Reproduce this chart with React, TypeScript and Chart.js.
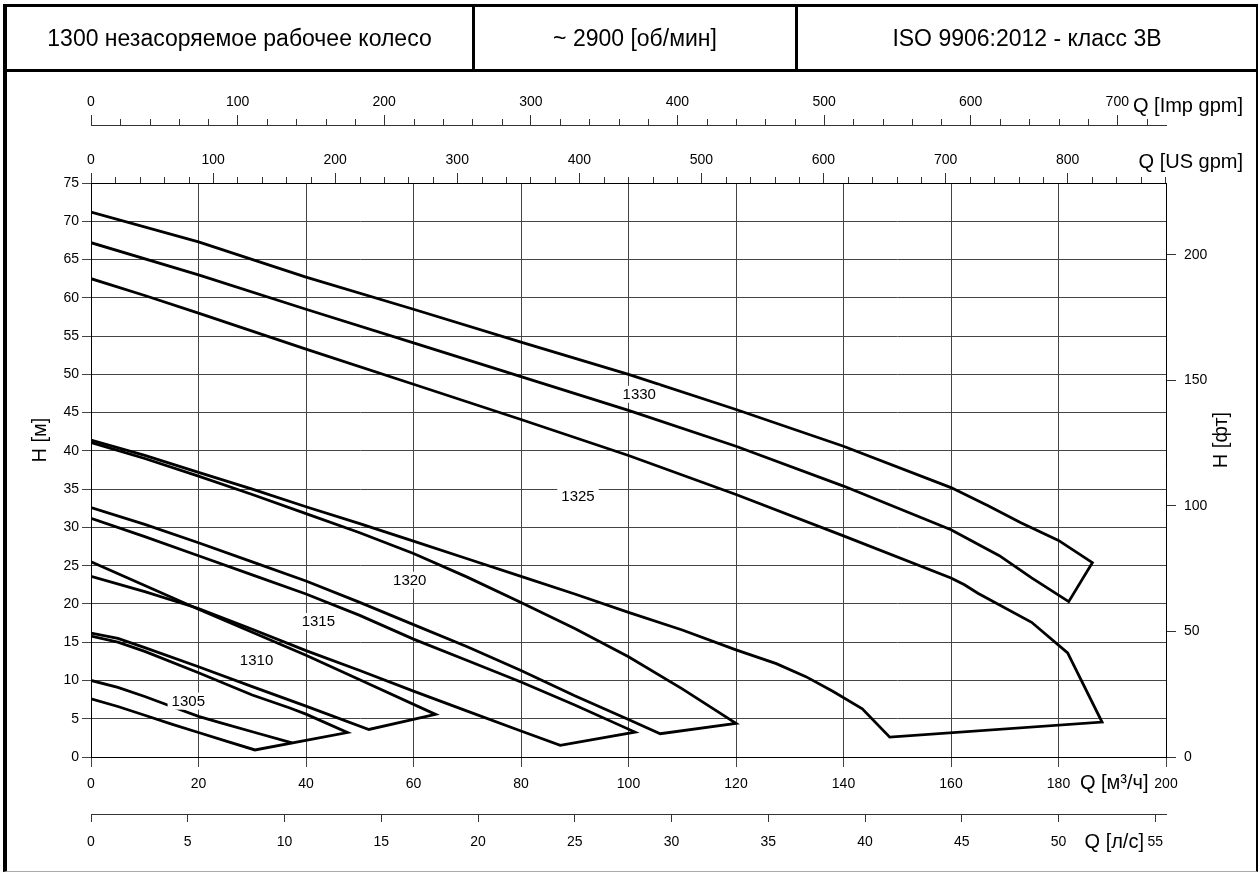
import React, { useEffect, useRef } from 'react';
import { Chart, registerables } from 'chart.js';

Chart.register(...registerables);

const FONT = '"Liberation Sans", Arial, Helvetica, sans-serif';

// ---------- header ----------
const headerTexts = ['1300 незасоряемое рабочее колесо', '~ 2900 [об/мин]', 'ISO 9906:2012 - класс 3B'];

// ---------- axis ranges ----------
const Q_M3H_MAX = 200;
const Q_LS_MAX = 200 / 3.6;
const Q_USGPM_MAX = 200 * 4.40287;
const Q_IMPGPM_MAX = 200 * 3.66615;
const H_M_MAX = 75;
const H_FT_MAX = 228.6;
const Q_M3H_STEP = 20;
const Q_LS_STEP = 5;
const GPM_MAJOR_STEP = 100;
const GPM_MINOR_STEP = 20;
const H_M_STEP = 5;
const H_FT_STEP = 50;

// ---------- axis titles ----------
const titleHm = 'H [м]';
const titleHft = 'H [фт]';
const titleQm3h = 'Q [м³/ч]';
const titleQls = 'Q [л/с]';
const titleQus = 'Q [US gpm]';
const titleQimp = 'Q [Imp gpm]';

// ---------- curves (Q in m³/h, H in m) ----------
const q1305min = [0, 5, 10, 15, 20, 25, 30.5];
const h1305min = [7.6, 6.6, 5.45, 4.3, 3.2, 2.1, 0.92];
const q1305mid = [0, 5, 10, 15, 20, 24, 31, 37.4];
const h1305mid = [10.0, 9.1, 7.9, 6.6, 5.3, 4.5, 3.1, 1.85];
const q1305max = [0, 5, 10, 20, 30, 37, 40, 47.7];
const h1305max = [15.8, 15.0, 13.8, 11.0, 8.1, 6.4, 5.6, 3.2];

const q1310min = [0, 5, 10, 20, 30, 40, 51.7];
const h1310min = [16.2, 15.5, 14.3, 11.8, 9.2, 6.65, 3.6];
const q1310max = [0, 10, 20, 30, 40, 50, 64.1];
const h1310max = [25.5, 22.4, 19.3, 16.3, 13.3, 10.1, 5.57];

const q1315min = [0, 10, 20, 30, 40, 50, 60, 70, 80, 87.3];
const h1315min = [23.6, 21.6, 19.4, 16.7, 13.9, 11.3, 8.6, 6.0, 3.4, 1.52];
const q1315max = [0, 10, 20, 30, 40, 50, 60, 70, 80, 90, 101.2];
const h1315max = [31.2, 28.8, 26.3, 23.8, 21.3, 18.5, 15.4, 12.6, 9.8, 6.8, 3.26];

const q1320min = [0, 10, 20, 30, 40, 50, 60, 70, 80, 90, 100, 105.9];
const h1320min = [32.6, 30.4, 28.0, 25.5, 23.0, 20.2, 17.3, 14.4, 11.3, 8.0, 4.9, 3.04];
const q1320max = [0, 10, 20, 30, 40, 50, 60, 70, 80, 90, 100, 110, 120];
const h1320max = [41.1, 39.0, 36.7, 34.3, 31.8, 29.3, 26.6, 23.5, 20.2, 16.8, 13.1, 8.9, 4.39];

const q1325min = [0, 10, 20, 30, 40, 50, 60, 70, 80, 90, 100, 110, 120, 127.5, 133, 138, 143.5, 148.6];
const h1325min = [41.4, 39.4, 37.2, 35.0, 32.7, 30.5, 28.2, 25.9, 23.6, 21.3, 18.9, 16.6, 14.0, 12.2, 10.5, 8.6, 6.3, 2.6];
const q1325max = [0, 10, 20, 40, 60, 80, 100, 120, 140, 160, 162.5, 165, 175, 181.7, 188.1];
const h1325max = [62.5, 60.3, 58.0, 53.3, 48.7, 44.1, 39.4, 34.3, 28.9, 23.4, 22.5, 21.4, 17.6, 13.6, 4.56];

const q1330min = [0, 20, 40, 60, 80, 100, 120, 140, 160, 169, 175, 181.9];
const h1330min = [67.2, 63.0, 58.5, 54.1, 49.7, 45.3, 40.6, 35.4, 29.7, 26.3, 23.4, 20.3];
const q1330max = [0, 20, 40, 60, 80, 100, 120, 140, 160, 167, 173, 180, 186.3];
const h1330max = [71.2, 67.3, 62.7, 58.5, 54.2, 50.0, 45.4, 40.6, 35.2, 32.8, 30.6, 28.3, 25.4];

// ---------- model labels (data coordinates) ----------
const modelNames = ['1305', '1310', '1315', '1320', '1325', '1330'];
const labelQ = [18.1, 30.8, 42.3, 59.3, 90.6, 102];
const labelH = [7.3, 12.6, 17.7, 23.1, 34.1, 47.4];

const toPts = (qs: number[], hs: number[]) => qs.map((q, i) => ({ x: q, y: hs[i] }));
const envelope = (qMax: number[], hMax: number[], qMin: number[], hMin: number[]) => [
  ...toPts(qMax, hMax),
  ...toPts(qMin, hMin).reverse(),
];

const GRID = '#444';

const overlayPlugin = {
  id: 'overlay',
  afterDatasetsDraw(chart: any) {
    const { ctx } = chart;
    const xs = chart.scales.x;
    const ys = chart.scales.y;
    ctx.save();
    ctx.font = `15px ${FONT}`;
    ctx.textAlign = 'center';
    ctx.textBaseline = 'middle';
    modelNames.forEach((name, i) => {
      const px = xs.getPixelForValue(labelQ[i]);
      const py = ys.getPixelForValue(labelH[i]);
      const w = ctx.measureText(name).width + 8;
      ctx.fillStyle = '#fff';
      ctx.fillRect(px - w / 2, py - 8.5, w, 17);
      ctx.fillStyle = '#000';
      ctx.fillText(name, px, py + 0.5);
    });
    ctx.restore();
  },
  afterDraw(chart: any) {
    const { ctx, chartArea } = chart;
    ctx.save();
    // minor ticks on gpm axes
    ctx.strokeStyle = '#333';
    ctx.lineWidth = 1;
    ['xImp', 'xUS'].forEach((id) => {
      const s = chart.scales[id];
      for (let v = GPM_MINOR_STEP; v <= s.max + 1e-6; v += GPM_MINOR_STEP) {
        if (v % GPM_MAJOR_STEP === 0) continue;
        const px = Math.round(s.getPixelForValue(v)) + 0.5;
        ctx.beginPath();
        ctx.moveTo(px, s.bottom);
        ctx.lineTo(px, s.bottom - 6);
        ctx.stroke();
      }
    });
    // axis titles
    ctx.fillStyle = '#000';
    ctx.font = `20px ${FONT}`;
    ctx.textBaseline = 'alphabetic';
    ctx.textAlign = 'right';
    const rightEdge = chartArea.right + 77;
    ctx.fillText(titleQimp, rightEdge, chart.scales.xImp.bottom - 13.5);
    ctx.fillText(titleQus, rightEdge, chart.scales.xUS.bottom - 15.5);
    ctx.textAlign = 'center';
    const xs = chart.scales.x;
    const midQ = (xs.getPixelForValue(180) + xs.getPixelForValue(200)) / 2 + 2;
    ctx.fillText(titleQm3h, midQ, xs.top + 31.5);
    ctx.fillText(titleQls, midQ, chart.scales.x2.top + 33.5);
    ctx.textBaseline = 'middle';
    const ty = 440;
    ctx.save();
    ctx.translate(40, ty);
    ctx.rotate(-Math.PI / 2);
    ctx.fillText(titleHm, 0, 0);
    ctx.restore();
    ctx.save();
    ctx.translate(1221, ty);
    ctx.rotate(-Math.PI / 2);
    ctx.fillText(titleHft, 0, 0);
    ctx.restore();
    ctx.restore();
  },
};

export default function App() {
  const canvasRef = useRef<HTMLCanvasElement | null>(null);

  useEffect(() => {
    if (!canvasRef.current) return;
    Chart.defaults.font.family = FONT;
    Chart.defaults.font.size = 14;
    Chart.defaults.color = '#000';

    const lineStyle = {
      showLine: true,
      borderColor: '#000',
      borderWidth: 2.8,
      pointRadius: 0,
      pointHoverRadius: 0,
      tension: 0,
      fill: false,
    };

    const datasets = [
      { label: '1305', data: envelope(q1305max, h1305max, q1305min, h1305min), ...lineStyle },
      { label: '1305 mid', data: toPts(q1305mid, h1305mid), ...lineStyle },
      { label: '1310', data: envelope(q1310max, h1310max, q1310min, h1310min), ...lineStyle },
      { label: '1315', data: envelope(q1315max, h1315max, q1315min, h1315min), ...lineStyle },
      { label: '1320', data: envelope(q1320max, h1320max, q1320min, h1320min), ...lineStyle },
      { label: '1325', data: envelope(q1325max, h1325max, q1325min, h1325min), ...lineStyle },
      { label: '1330', data: envelope(q1330max, h1330max, q1330min, h1330min), ...lineStyle },
    ];

    const tickFont = { size: 14, family: FONT };

    const chart = new Chart(canvasRef.current, {
      type: 'scatter',
      data: { datasets },
      plugins: [overlayPlugin],
      options: {
        responsive: false,
        animation: false,
        devicePixelRatio: 1,
        layout: { padding: { left: 0, right: 32, top: 67, bottom: 14 } },
        plugins: { legend: { display: false }, tooltip: { enabled: false } },
        events: [],
        scales: {
          x: {
            type: 'linear',
            position: 'bottom',
            weight: 0,
            min: 0,
            max: Q_M3H_MAX,
            ticks: { stepSize: Q_M3H_STEP, padding: 9, autoSkip: false, maxRotation: 0, font: tickFont, color: '#000' },
            grid: { color: GRID, lineWidth: 1, tickLength: 10, tickColor: GRID },
            border: { display: true, color: '#000', width: 1 },
            afterFit: (s: any) => { s.height = 57; },
          },
          x2: {
            type: 'linear',
            axis: 'x',
            position: 'bottom',
            weight: 1,
            min: 0,
            max: Q_LS_MAX,
            ticks: { stepSize: Q_LS_STEP, padding: 12, includeBounds: false, autoSkip: false, maxRotation: 0, font: tickFont, color: '#000' },
            grid: { drawOnChartArea: false, tickLength: 8, color: '#333' },
            border: { display: true, color: '#333', width: 1 },
            afterFit: (s: any) => { s.height = 45; },
          },
          xUS: {
            type: 'linear',
            axis: 'x',
            position: 'top',
            weight: 0,
            min: 0,
            max: Q_USGPM_MAX,
            ticks: { stepSize: GPM_MAJOR_STEP, padding: 4, includeBounds: false, autoSkip: false, maxRotation: 0, font: tickFont, color: '#000' },
            grid: { drawOnChartArea: false, tickLength: 10, color: '#333' },
            border: { display: true, color: '#000', width: 1 },
            afterFit: (s: any) => { s.height = 58; },
          },
          xImp: {
            type: 'linear',
            axis: 'x',
            position: 'top',
            weight: 1,
            min: 0,
            max: Q_IMPGPM_MAX,
            ticks: { stepSize: GPM_MAJOR_STEP, padding: 4, includeBounds: false, autoSkip: false, maxRotation: 0, font: tickFont, color: '#000' },
            grid: { drawOnChartArea: false, tickLength: 10, color: '#333' },
            border: { display: true, color: '#333', width: 1 },
            afterFit: (s: any) => { s.height = 58; },
          },
          y: {
            type: 'linear',
            position: 'left',
            min: 0,
            max: H_M_MAX,
            ticks: { stepSize: H_M_STEP, padding: 3, autoSkip: false, font: tickFont, color: '#000' },
            grid: { color: GRID, lineWidth: 1, tickLength: 9, tickColor: GRID },
            border: { display: true, color: '#000', width: 1 },
            afterFit: (s: any) => { s.width = 91; },
          },
          y2: {
            type: 'linear',
            axis: 'y',
            position: 'right',
            min: 0,
            max: H_FT_MAX,
            ticks: { stepSize: H_FT_STEP, padding: 8, includeBounds: false, autoSkip: false, font: tickFont, color: '#000' },
            grid: { drawOnChartArea: false, tickLength: 10, color: '#333' },
            border: { display: true, color: '#000', width: 1 },
            afterFit: (s: any) => { s.width = 60; },
          },
        },
      } as any,
    });
    return () => chart.destroy();
  }, []);

  const cellStyle: React.CSSProperties = {
    display: 'flex',
    alignItems: 'center',
    justifyContent: 'center',
    fontSize: 23,
    color: '#000',
    whiteSpace: 'nowrap',
    boxSizing: 'border-box',
    height: '100%',
  };

  return (
    <div style={{ position: 'absolute', left: 0, top: 0, width: 1258, height: 873, background: '#fff', fontFamily: FONT, overflow: 'hidden' }}>
      <canvas ref={canvasRef} width={1258} height={873} style={{ position: 'absolute', left: 0, top: 0, width: 1258, height: 873 }} />
      <div style={{ position: 'absolute', left: 3, top: 4, width: 1255, height: 868, borderLeft: '4px solid #000', borderTop: '3px solid #000', borderRight: '2px solid #000', borderBottom: '1px solid #aaa', boxSizing: 'border-box', pointerEvents: 'none' }} />
      <div style={{ position: 'absolute', left: 7, top: 7, width: 1249, height: 65, borderBottom: '3px solid #000', boxSizing: 'border-box', display: 'flex' }}>
        <div style={{ ...cellStyle, width: 468, borderRight: '3px solid #000' }}>{headerTexts[0]}</div>
        <div style={{ ...cellStyle, width: 323, borderRight: '3px solid #000' }}>{headerTexts[1]}</div>
        <div style={{ ...cellStyle, flex: 1 }}>{headerTexts[2]}</div>
      </div>
    </div>
  );
}
